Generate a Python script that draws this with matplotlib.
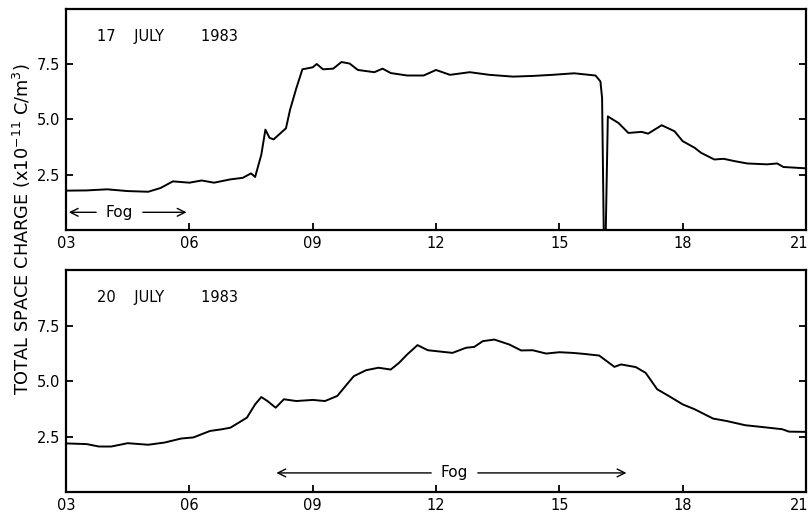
"""Total space charge, 17 and 20 July 1983 (two stacked panels)."""

import numpy as np
import matplotlib.pyplot as plt
import matplotlib.transforms as mtransforms

plt.rcParams["font.family"] = ["DejaVu Sans"]

# hour of day / space charge (x1e-11 C/m^3)
hours_17 = [3.0, 3.5, 4.0, 4.5, 5.0, 5.3, 5.6, 6.0, 6.3, 6.6, 7.0, 7.3, 7.5, 7.6,
            7.75, 7.85, 7.95, 8.05, 8.2, 8.35, 8.45, 8.6, 8.75, 9.0, 9.1, 9.25,
            9.5, 9.7, 9.9, 10.1, 10.5, 10.7, 10.9, 11.3, 11.7, 12.0, 12.34,
            12.82, 13.3, 13.87, 14.35, 14.83, 15.36, 15.88, 16.0, 16.04, 16.08,
            16.13, 16.18, 16.24, 16.44, 16.68, 17.0, 17.16, 17.49, 17.8, 18.0,
            18.29, 18.45, 18.77, 19.0, 19.25, 19.57, 20.05, 20.3, 20.45, 21.0]
charge_17 = [1.78, 1.79, 1.84, 1.76, 1.73, 1.9, 2.2, 2.14, 2.24, 2.14, 2.29, 2.36,
             2.56, 2.4, 3.4, 4.54, 4.17, 4.1, 4.35, 4.6, 5.44, 6.4, 7.27, 7.36,
             7.51, 7.27, 7.3, 7.6, 7.53, 7.24, 7.14, 7.3, 7.1, 6.99, 6.99, 7.24,
             7.02, 7.14, 7.02, 6.94, 6.97, 7.02, 7.09, 6.99, 6.72, 5.97, 0.0,
             0.0, 5.14, 5.07, 4.84, 4.39, 4.44, 4.36, 4.74, 4.47, 4.02, 3.72,
             3.49, 3.19, 3.22, 3.12, 3.01, 2.97, 3.01, 2.85, 2.79]

hours_20 = [3.0, 3.5, 3.8, 4.1, 4.5, 5.0, 5.4, 5.8, 6.1, 6.5, 6.8, 7.0, 7.4, 7.6,
            7.75, 7.9, 8.1, 8.3, 8.6, 9.0, 9.3, 9.6, 9.8, 10.0, 10.3, 10.6,
            10.9, 11.1, 11.3, 11.55, 11.8, 12.0, 12.4, 12.73, 12.93, 13.14,
            13.42, 13.78, 14.07, 14.35, 14.68, 15.0, 15.32, 15.57, 15.97, 16.34,
            16.5, 16.86, 17.1, 17.38, 17.66, 18.0, 18.29, 18.74, 19.07, 19.52,
            19.93, 20.42, 20.59, 21.0]
charge_20 = [2.19, 2.16, 2.05, 2.05, 2.2, 2.13, 2.23, 2.41, 2.46, 2.75, 2.83, 2.9,
             3.35, 3.95, 4.28, 4.1, 3.8, 4.18, 4.1, 4.15, 4.1, 4.33, 4.78, 5.22,
             5.49, 5.6, 5.52, 5.82, 6.2, 6.62, 6.39, 6.35, 6.27, 6.5, 6.54, 6.8,
             6.87, 6.65, 6.38, 6.39, 6.24, 6.3, 6.27, 6.23, 6.15, 5.64, 5.75,
             5.63, 5.37, 4.63, 4.33, 3.95, 3.73, 3.31, 3.2, 3.01, 2.93, 2.83,
             2.72, 2.71]

panel_titles = ["17    JULY        1983", "20    JULY        1983"]
x_ticks = [3, 6, 9, 12, 15, 18, 21]
x_ticklabels = ["03", "06", "09", "12", "15", "18", "21"]
y_ticks = [2.5, 5.0, 7.5]

# fog periods: (start, end, label centre) in hours
fog_17 = (3.0, 6.0, 4.3)
fog_20 = (8.05, 16.7, 12.45)


def style_axes(ax):
    ax.set_xlim(3, 21)
    ax.set_ylim(0, 10)
    ax.set_xticks(x_ticks)
    ax.set_xticklabels(x_ticklabels)
    ax.set_yticks(y_ticks)
    ax.set_yticklabels([f"{v:.1f}" for v in y_ticks])
    ax.tick_params(axis="both", direction="in", length=5, width=1.3,
                   labelsize=10.5, pad=4)
    ax.tick_params(axis="y", right=True)
    for sp in ax.spines.values():
        sp.set_linewidth(1.6)
    # last label sits at the figure edge, pull it inside like the original
    last = ax.get_xticklabels()[-1]
    last.set_horizontalalignment("right")
    last.set_transform(last.get_transform() +
                       mtransforms.ScaledTranslation(0.03, 0, ax.figure.dpi_scale_trans))


def fog_arrow(ax, fog, y, gap_left, gap_right):
    start, end, mid = fog
    arrow = dict(arrowstyle="->", lw=1.0, color="black", mutation_scale=14)
    ax.annotate("", xy=(start, y), xytext=(mid - gap_left, y), arrowprops=arrow)
    ax.annotate("", xy=(end, y), xytext=(mid + gap_right, y), arrowprops=arrow)
    ax.text(mid, y, "Fog", ha="center", va="center", fontsize=11)


fig = plt.figure(figsize=(8.12, 5.16), dpi=100)
ax1 = fig.add_axes([0.0813, 0.5543, 0.9113, 0.4283])
ax2 = fig.add_axes([0.0813, 0.0465, 0.9113, 0.4300])

ax1.plot(hours_17, charge_17, color="black", lw=1.4)
ax2.plot(hours_20, charge_20, color="black", lw=1.4)

for ax, title in zip([ax1, ax2], panel_titles):
    style_axes(ax)
    ax.text(3.75, 8.75, title, ha="left", va="center", fontsize=10.5)

fog_arrow(ax1, fog_17, 0.8, 0.5, 0.5)
fog_arrow(ax2, fog_20, 0.86, 0.5, 0.5)

fig.text(0.027, 0.556, r"TOTAL SPACE CHARGE (x10$^{-11}$ C/m$^3$)",
         rotation=90, ha="center", va="center", fontsize=12.8)

fig.savefig("out.png", dpi=100)
